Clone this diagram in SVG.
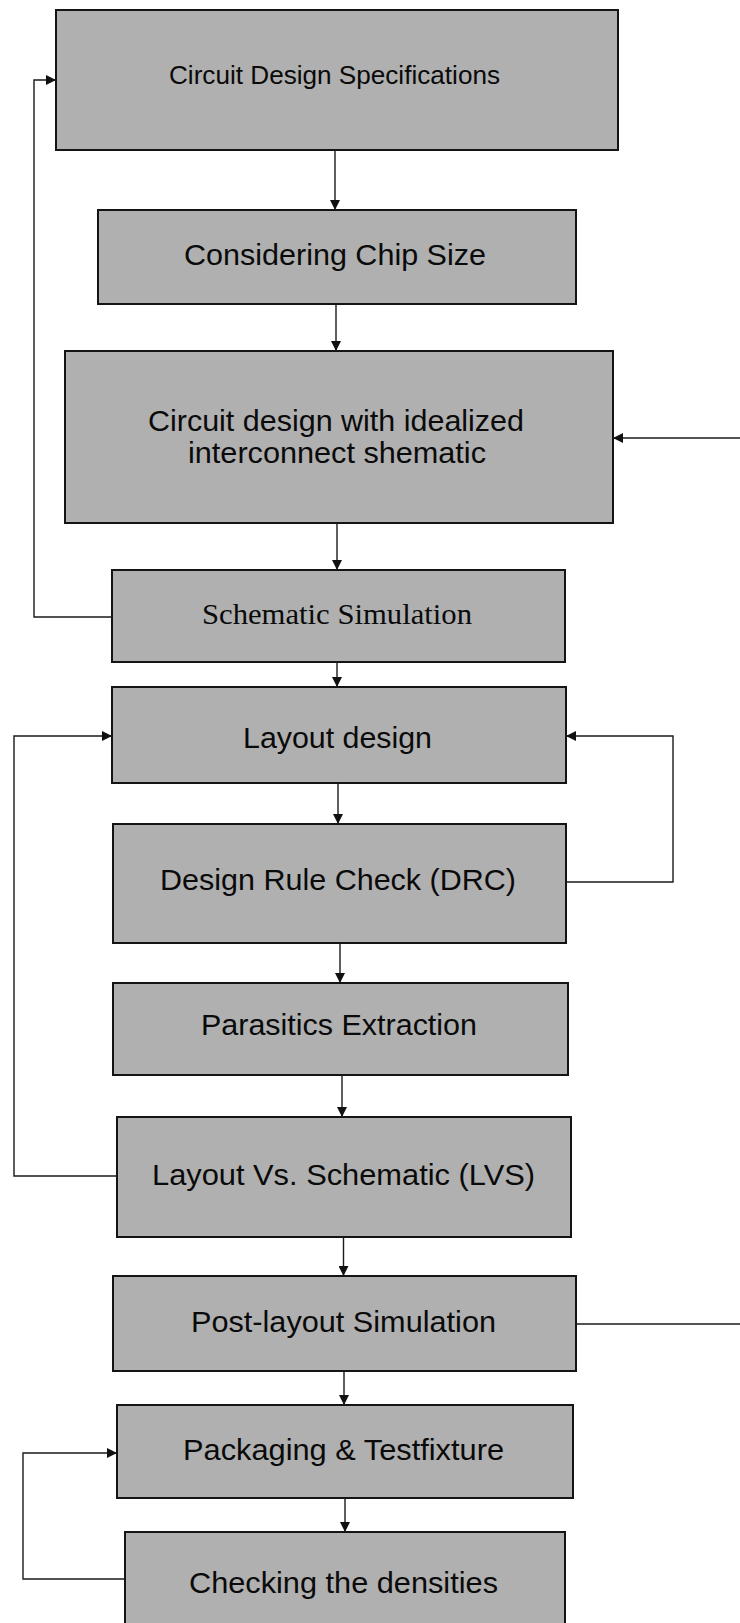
<svg xmlns="http://www.w3.org/2000/svg" width="740" height="1623" viewBox="0 0 740 1623">
<defs>
<marker id="ah" viewBox="0 0 10 10" refX="10" refY="5" markerWidth="11" markerHeight="10" markerUnits="userSpaceOnUse" orient="auto">
<path d="M0,0 L10,5 L0,10 Z" fill="#111"/>
</marker>
<style>
.box{fill:#b0b0b0;stroke:#141414;stroke-width:2}
.t{font-family:"Liberation Sans",Arial,sans-serif;font-size:30px;fill:#0a0a0a;text-anchor:middle}
.s{font-family:"Liberation Serif","Times New Roman",serif;font-size:29px;fill:#0a0a0a;text-anchor:middle}
.c{fill:none;stroke:#1a1a1a;stroke-width:1.4}
.ca{fill:none;stroke:#1a1a1a;stroke-width:1.4;marker-end:url(#ah)}
</style>
</defs>
<rect width="740" height="1623" fill="#fff"/>
<g id="n1"><rect class="box" x="56" y="10" width="562" height="140"/><text class="t" style="font-size:26px" x="334.5" y="84" textLength="331" lengthAdjust="spacingAndGlyphs">Circuit Design Specifications</text></g>
<g id="n2"><rect class="box" x="98" y="210" width="478" height="94"/><text class="t" x="335" y="265" textLength="302" lengthAdjust="spacingAndGlyphs">Considering Chip Size</text></g>
<g id="n3"><rect class="box" x="65" y="351" width="548" height="172"/><text class="t" x="336" y="431" textLength="376" lengthAdjust="spacingAndGlyphs">Circuit design with idealized</text><text class="t" x="337" y="463" textLength="298" lengthAdjust="spacingAndGlyphs">interconnect shematic</text></g>
<g id="n4"><rect class="box" x="112" y="570" width="453" height="92"/><text class="s" x="337" y="624" textLength="270" lengthAdjust="spacingAndGlyphs">Schematic Simulation</text></g>
<g id="n5"><rect class="box" x="112" y="687" width="454" height="96"/><text class="t" x="337.5" y="748" textLength="189" lengthAdjust="spacingAndGlyphs">Layout design</text></g>
<g id="n6"><rect class="box" x="113" y="824" width="453" height="119"/><text class="t" x="338" y="890" textLength="356" lengthAdjust="spacingAndGlyphs">Design Rule Check (DRC)</text></g>
<g id="n7"><rect class="box" x="113" y="983" width="455" height="92"/><text class="t" x="339" y="1035" textLength="276" lengthAdjust="spacingAndGlyphs">Parasitics Extraction</text></g>
<g id="n8"><rect class="box" x="117" y="1117" width="454" height="120"/><text class="t" x="343.5" y="1185" textLength="383" lengthAdjust="spacingAndGlyphs">Layout Vs. Schematic (LVS)</text></g>
<g id="n9"><rect class="box" x="113" y="1276" width="463" height="95"/><text class="t" x="343.5" y="1332" textLength="305" lengthAdjust="spacingAndGlyphs">Post-layout Simulation</text></g>
<g id="n10"><rect class="box" x="117" y="1405" width="456" height="93"/><text class="t" x="343.5" y="1460" textLength="321" lengthAdjust="spacingAndGlyphs">Packaging &amp; Testfixture</text></g>
<g id="n11"><rect class="box" x="125" y="1532" width="440" height="100"/><text class="t" x="343.5" y="1593" textLength="309" lengthAdjust="spacingAndGlyphs">Checking the densities</text></g>
<g id="connectors">
<path class="ca" d="M335,150 V210"/>
<path class="ca" d="M336,304 V351"/>
<path class="ca" d="M337,523 V570"/>
<path class="ca" d="M337,662 V687"/>
<path class="ca" d="M338,783 V824"/>
<path class="ca" d="M340,943 V983"/>
<path class="ca" d="M342,1075 V1117"/>
<path class="ca" d="M343.5,1237 V1276"/>
<path class="ca" d="M344,1371 V1405"/>
<path class="ca" d="M345,1498 V1532"/>
<path class="ca" d="M112,617 H34 V80 H56"/>
<path class="ca" d="M117,1176 H14 V736 H112"/>
<path class="ca" d="M566,882 H673 V736 H566"/>
<path class="ca" d="M125,1579 H23 V1453 H117"/>
<path class="c" d="M576,1324 H740"/>
<path class="ca" d="M740,438 H613"/>
</g>
</svg>
